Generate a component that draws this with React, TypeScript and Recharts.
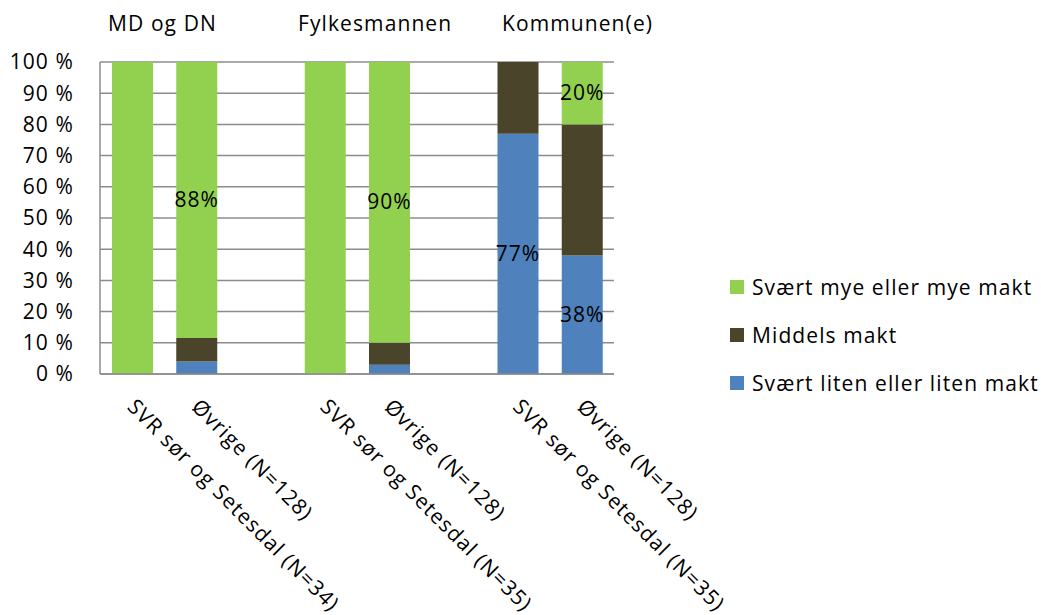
import { Bar, BarChart, CartesianGrid, LabelList, XAxis, YAxis } from "recharts";

const categories = [
	"SVR sør og Setesdal (N=34)",
	"Øvrige (N=128)",
	"",
	"SVR sør og Setesdal (N=35)",
	"Øvrige (N=128)",
	"",
	"SVR sør og Setesdal (N=35)",
	"Øvrige (N=128)",
];
const lowShare = [0, 4, null, 0, 3, null, 77, 38];
const midShare = [0, 7.5, null, 0, 7, null, 23, 42];
const highShare = [100, 88.5, null, 100, 90, null, 0, 20];
const lowLabels = [null, null, null, null, null, null, "77%", "38%"];
const highLabels = [null, "88%", null, null, "90%", null, null, "20%"];
const groupTitles = ["MD og DN", "Fylkesmannen", "Kommunen(e)"];
const yTicks = [0, 10, 20, 30, 40, 50, 60, 70, 80, 90, 100];

const series = [
	{ key: "high", name: "Svært mye eller mye makt", color: "#92D050" },
	{ key: "mid", name: "Middels makt", color: "#4A452A" },
	{ key: "low", name: "Svært liten eller liten makt", color: "#4F81BD" },
];

const data = categories.map((name, i) => ({
	name,
	low: lowShare[i],
	mid: midShare[i],
	high: highShare[i],
	lowLabel: lowLabels[i],
	highLabel: highLabels[i],
}));

const FONT = "'Open Sans', sans-serif";
const FS = 21;
const LS = 1.1;

function SegLabel(props: any) {
	const { x, y, width, height, value } = props;
	if (!value) return null;
	return (
		<text
			x={x + width / 2}
			y={y + height / 2}
			dy={7}
			textAnchor="middle"
			fontSize={FS}
			fill="#000"
			fontFamily={FONT}
			style={{ letterSpacing: LS }}
		>
			{value}
		</text>
	);
}

function SlantTick(props: any) {
	const { x, y, payload } = props;
	if (!payload.value) return null;
	return (
		<g transform={`translate(${x - 6},${y + 26}) rotate(45)`}>
			<text
				x={0}
				y={0}
				textAnchor="start"
				fontSize={FS}
				fill="#000"
				fontFamily={FONT}
				style={{ letterSpacing: LS }}
			>
				{payload.value}
			</text>
		</g>
	);
}

const titleLeft = [108, 298, 502];

export default function App() {
	return (
		<div
			style={{
				position: "absolute",
				left: 0,
				top: 0,
				width: 1041,
				height: 615,
				background: "#fff",
				fontFamily: FONT,
				letterSpacing: LS,
			}}
		>
			{groupTitles.map((t, i) => (
				<div
					key={t}
					style={{
						position: "absolute",
						left: titleLeft[i],
						top: 9,
						fontSize: FS,
						color: "#000",
						whiteSpace: "nowrap",
					}}
				>
					{t}
				</div>
			))}
			<BarChart
				width={1041}
				height={615}
				data={data}
				margin={{ top: 62, right: 427, bottom: 0, left: 0 }}
				barSize={41}
			>
				<CartesianGrid vertical={false} stroke="#8c8c8c" strokeWidth={1.5} />
				<XAxis
					dataKey="name"
					height={241}
					tickLine={false}
					axisLine={{ stroke: "#8c8c8c", strokeWidth: 1.5 }}
					tick={<SlantTick />}
					interval={0}
				/>
				<YAxis
					width={100}
					domain={[0, 100]}
					ticks={yTicks}
					tickLine={false}
					axisLine={{ stroke: "#8c8c8c", strokeWidth: 1.5 }}
					tickFormatter={(v) => `${v} %`}
					tick={{ fontSize: FS, fill: "#000", fontFamily: FONT }}
					tickMargin={20}
				/>
				<Bar dataKey="low" stackId="a" fill="#4F81BD" isAnimationActive={false}>
					<LabelList dataKey="lowLabel" content={<SegLabel />} />
				</Bar>
				<Bar dataKey="mid" stackId="a" fill="#4A452A" isAnimationActive={false} />
				<Bar dataKey="high" stackId="a" fill="#92D050" isAnimationActive={false}>
					<LabelList dataKey="highLabel" content={<SegLabel />} />
				</Bar>
			</BarChart>
			<div style={{ position: "absolute", left: 730, top: 263 }}>
				{series.map((s) => (
					<div
						key={s.key}
						style={{ display: "flex", alignItems: "center", height: 48, fontSize: FS }}
					>
						<span
							style={{
								display: "inline-block",
								width: 14,
								height: 14,
								background: s.color,
								marginRight: 8,
							}}
						/>
						<span style={{ whiteSpace: "nowrap" }}>{s.name}</span>
					</div>
				))}
			</div>
		</div>
	);
}
